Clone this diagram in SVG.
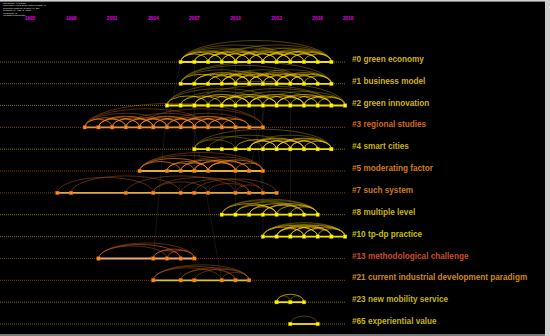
<svg xmlns="http://www.w3.org/2000/svg" xmlns:xlink="http://www.w3.org/1999/xlink" width="550" height="336" viewBox="0 0 550 336">
<style>
.hd{font-family:"Liberation Sans",Arial,sans-serif;font-size:2.5px;fill:#e0e0e0}
.yr{font-family:"Liberation Sans",Arial,sans-serif;font-size:4.8px;font-weight:bold;fill:#e600e6;text-anchor:middle}
.lb{font-family:"Liberation Sans",Arial,sans-serif;font-size:8.2px;font-weight:bold}
.dy{stroke:#9a8800;stroke-width:.8;stroke-dasharray:1 1;fill:none}
.do{stroke:#9a5510;stroke-width:.8;stroke-dasharray:1 1;fill:none}
.ly{stroke:#f2e400;stroke-width:1.8;fill:none}
.ay{fill:none;stroke:#ffd400;stroke-opacity:.7;stroke-width:.9}
.ayd{fill:none;stroke:#b89800;stroke-opacity:.55;stroke-width:.8}
.ao{fill:none;stroke:#ff8a20;stroke-opacity:.7;stroke-width:.9}
.aod{fill:none;stroke:#b05a10;stroke-opacity:.6;stroke-width:.8}
.ar{fill:none;stroke:#e0603a;stroke-opacity:.65;stroke-width:.9}
.gl{stroke:#a0a0a0;stroke-opacity:.22;stroke-width:.6;fill:none}
</style>
<defs>
<marker id="ny" markerUnits="userSpaceOnUse" markerWidth="5" markerHeight="5" refX="2.5" refY="2.5" overflow="visible"><rect x="0.8" y="0.8" width="3.4" height="3.4" fill="#ffff00" stroke="#c8b000" stroke-width=".4"/></marker>
<marker id="no" markerUnits="userSpaceOnUse" markerWidth="5" markerHeight="5" refX="2.5" refY="2.5" overflow="visible"><rect x="0.8" y="0.8" width="3.4" height="3.4" fill="#ff8c1a" stroke="#c06010" stroke-width=".4"/></marker>
<path id="a1" d="M0 0A6.85 6.5 0 0 1 13.7 0"/>
<path id="a2" d="M0 0A13.7 8 0 0 1 27.4 0"/>
<path id="a3" d="M0 0A20.55 9.5 0 0 1 41.1 0"/>
<path id="a4" d="M0 0A27.4 11 0 0 1 54.8 0"/>
<path id="a5" d="M0 0A34.25 12.5 0 0 1 68.5 0"/>
<path id="a6" d="M0 0A41.1 14 0 0 1 82.2 0"/>
<path id="a7" d="M0 0A47.95 15.5 0 0 1 95.9 0"/>
<path id="a8" d="M0 0A54.8 17 0 0 1 109.6 0"/>
<path id="a9" d="M0 0A61.65 18.5 0 0 1 123.3 0"/>
<path id="a10" d="M0 0A68.5 20 0 0 1 137 0"/>
<path id="a11" d="M0 0A75.35 21.5 0 0 1 150.7 0"/>
<path id="a13" d="M0 0A89.05 24 0 0 1 178.1 0"/>
</defs>
<rect x="0" y="0" width="550" height="336" fill="#000"/>
<rect x="0" y="0" width="550" height="1.6" fill="#d0d0d0"/>
<rect x="0" y="334" width="550" height="2" fill="#7a7a7a"/>
<rect x="545" y="0" width="5" height="336" fill="#d0d0d0"/>
<g id="header">
<text class="hd" x="3" y="4">CiteSpace, v. 5.8.R3</text>
<text class="hd" x="3" y="6.4">Timespan: 1995-2018 (Slice Length=1)</text>
<text class="hd" x="3" y="8.8">Selection Criteria: g-index (k=25)</text>
<text class="hd" x="3" y="11.2">Network: N=482, E=1736</text>
<text class="hd" x="3" y="13.6">Modularity Q</text>
<text class="hd" x="3" y="16">Weighted Silhouette</text>
</g>
<g id="years">
<text class="yr" x="30" y="20">1995</text>
<text class="yr" x="71.1" y="20">1998</text>
<text class="yr" x="112.2" y="20">2001</text>
<text class="yr" x="153.3" y="20">2004</text>
<text class="yr" x="194.4" y="20">2007</text>
<text class="yr" x="235.5" y="20">2010</text>
<text class="yr" x="276.6" y="20">2013</text>
<text class="yr" x="317.7" y="20">2016</text>
<text class="yr" x="348" y="20">2018</text>
</g>
<g id="connectors">
<path class="gl" d="M194.4 62V171M221.8 62V149M235.5 62V215M208.1 84V127M262.9 105V237M180.7 62L167 127M249.2 62L262.9 193M290.3 84V237M276.6 62L249.2 171M167 105L153.3 259M194.4 127L221.8 281"/>
<g transform="translate(0,62)">
<g class="ay"><use href="#a2" x="180.7"/><use href="#a2" x="194.4"/><use href="#a2" x="208.1"/><use href="#a2" x="221.8"/><use href="#a2" x="235.5"/><use href="#a2" x="249.2"/><use href="#a2" x="262.9"/><use href="#a2" x="276.6"/><use href="#a2" x="290.3"/><use href="#a2" x="304"/>
<use href="#a3" x="180.7"/><use href="#a3" x="194.4"/><use href="#a3" x="208.1"/><use href="#a3" x="221.8"/><use href="#a3" x="235.5"/><use href="#a3" x="249.2"/><use href="#a3" x="262.9"/><use href="#a3" x="276.6"/><use href="#a3" x="290.3"/>
<use href="#a4" x="180.7"/><use href="#a4" x="208.1"/><use href="#a4" x="235.5"/><use href="#a4" x="262.9"/><use href="#a4" x="276.6"/></g>
<g class="ayd"><use href="#a6" x="180.7"/><use href="#a6" x="208.1"/><use href="#a6" x="235.5"/><use href="#a6" x="249.2"/><use href="#a8" x="180.7"/><use href="#a8" x="221.8"/><use href="#a11" x="180.7"/><use href="#a5" x="194.4"/><use href="#a5" x="262.9"/></g>
</g>
<g transform="translate(0,83.8)">
<g class="ay"><use href="#a2" x="208.1"/><use href="#a2" x="221.8"/><use href="#a2" x="235.5"/><use href="#a2" x="249.2"/><use href="#a2" x="262.9"/><use href="#a2" x="276.6"/><use href="#a2" x="290.3"/><use href="#a2" x="304"/>
<use href="#a3" x="180.7"/><use href="#a3" x="194.4"/><use href="#a3" x="208.1"/><use href="#a3" x="221.8"/><use href="#a3" x="235.5"/><use href="#a3" x="249.2"/><use href="#a3" x="262.9"/><use href="#a3" x="276.6"/><use href="#a3" x="290.3"/>
<use href="#a4" x="194.4"/><use href="#a4" x="221.8"/><use href="#a4" x="249.2"/><use href="#a4" x="276.6"/></g>
<g class="ayd"><use href="#a6" x="180.7"/><use href="#a6" x="221.8"/><use href="#a6" x="249.2"/><use href="#a9" x="180.7"/><use href="#a11" x="180.7"/><use href="#a5" x="208.1"/></g>
</g>
<g transform="translate(0,105.5)">
<g class="ay"><use href="#a3" x="167"/><use href="#a3" x="180.7"/><use href="#a3" x="194.4"/><use href="#a3" x="208.1"/><use href="#a3" x="221.8"/><use href="#a3" x="235.5"/><use href="#a3" x="249.2"/><use href="#a3" x="262.9"/><use href="#a3" x="276.6"/><use href="#a3" x="290.3"/><use href="#a3" x="304"/>
<use href="#a2" x="221.8"/><use href="#a2" x="249.2"/><use href="#a2" x="276.6"/><use href="#a2" x="304"/><use href="#a2" x="317.7"/>
<use href="#a4" x="194.4"/><use href="#a4" x="221.8"/><use href="#a4" x="249.2"/><use href="#a4" x="276.6"/></g>
<g class="ayd"><use href="#a6" x="180.7"/><use href="#a6" x="235.5"/><use href="#a6" x="262.9"/><use href="#a8" x="167"/><use href="#a8" x="221.8"/><use href="#a13" x="167"/><use href="#a10" x="194.4"/></g>
</g>
<g transform="translate(0,127.3)">
<g class="ao"><use href="#a2" x="84.8"/><use href="#a2" x="98.5"/><use href="#a2" x="112.2"/><use href="#a2" x="125.9"/><use href="#a2" x="139.6"/><use href="#a2" x="153.3"/><use href="#a2" x="167"/><use href="#a2" x="180.7"/><use href="#a2" x="194.4"/><use href="#a2" x="208.1"/><use href="#a2" x="221.8"/>
<use href="#a3" x="84.8"/><use href="#a3" x="98.5"/><use href="#a3" x="112.2"/><use href="#a3" x="125.9"/><use href="#a3" x="139.6"/><use href="#a3" x="153.3"/><use href="#a3" x="167"/><use href="#a3" x="180.7"/><use href="#a3" x="194.4"/><use href="#a3" x="208.1"/>
<use href="#a4" x="98.5"/><use href="#a4" x="139.6"/><use href="#a4" x="180.7"/></g>
<g class="aod"><use href="#a6" x="84.8"/><use href="#a6" x="125.9"/><use href="#a6" x="167"/><use href="#a9" x="84.8"/><use href="#a9" x="139.6"/><use href="#a13" x="84.8"/></g>
</g>
<g transform="translate(0,149.2)">
<g class="ay"><use href="#a2" x="249.2"/><use href="#a2" x="262.9"/><use href="#a2" x="276.6"/><use href="#a2" x="290.3"/><use href="#a2" x="304"/>
<use href="#a3" x="235.5"/><use href="#a3" x="249.2"/><use href="#a3" x="262.9"/><use href="#a3" x="276.6"/><use href="#a3" x="290.3"/>
<use href="#a4" x="249.2"/><use href="#a4" x="276.6"/></g>
<g class="ayd"><use href="#a5" x="194.4"/><use href="#a6" x="208.1"/><use href="#a6" x="249.2"/><use href="#a10" x="194.4"/><use href="#a3" x="194.4"/></g>
</g>
<g transform="translate(0,171)">
<g class="ao"><use href="#a3" x="139.6"/><use href="#a3" x="167"/><use href="#a3" x="194.4"/><use href="#a3" x="208.1"/><use href="#a4" x="180.7"/><use href="#a4" x="194.4"/><use href="#a4" x="208.1"/><use href="#a2" x="167"/><use href="#a2" x="180.7"/><use href="#a2" x="208.1"/><use href="#a2" x="235.5"/><use href="#a5" x="139.6"/></g>
<g class="aod"><use href="#a7" x="139.6"/><use href="#a9" x="139.6"/><use href="#a6" x="180.7"/></g>
</g>
<g transform="translate(0,192.9)">
<g class="aod"><use href="#a7" x="57.4"/><use href="#a8" x="71.1"/><use href="#a8" x="125.9"/><use href="#a7" x="153.3"/><use href="#a6" x="180.7"/><use href="#a6" x="194.4"/><use href="#a3" x="208.1"/><use href="#a2" x="235.5"/><use href="#a4" x="153.3"/></g>
</g>
<g transform="translate(0,214.7)">
<g class="ay"><use href="#a4" x="221.8"/><use href="#a4" x="249.2"/><use href="#a4" x="262.9"/><use href="#a3" x="235.5"/><use href="#a3" x="262.9"/><use href="#a3" x="276.6"/><use href="#a2" x="249.2"/><use href="#a2" x="290.3"/></g>
<g class="ayd"><use href="#a7" x="221.8"/><use href="#a6" x="221.8"/><use href="#a6" x="235.5"/><use href="#a5" x="235.5"/></g>
</g>
<g transform="translate(0,236.6)">
<g class="ay"><use href="#a4" x="262.9"/><use href="#a4" x="276.6"/><use href="#a4" x="290.3"/><use href="#a3" x="262.9"/><use href="#a3" x="276.6"/><use href="#a3" x="290.3"/><use href="#a3" x="304"/><use href="#a2" x="276.6"/><use href="#a2" x="304"/><use href="#a2" x="317.7"/></g>
<g class="ayd"><use href="#a6" x="262.9"/><use href="#a5" x="262.9"/><use href="#a5" x="276.6"/></g>
</g>
<g transform="translate(0,258.5)">
<g class="ar"><use href="#a6" x="98.5"/><use href="#a3" x="153.3"/><use href="#a2" x="167"/><use href="#a2" x="153.3"/></g>
<g class="aod"><use href="#a7" x="98.5"/><use href="#a5" x="98.5"/></g>
</g>
<g transform="translate(0,280.3)">
<g class="aod"><use href="#a7" x="153.3"/><use href="#a6" x="153.3"/><use href="#a5" x="180.7"/><use href="#a4" x="180.7"/><use href="#a4" x="194.4"/><use href="#a5" x="153.3"/><use href="#a2" x="221.8"/></g>
</g>
<g transform="translate(0,302.2)">
<g class="ay"><use href="#a2" x="276.6"/></g>
<g class="ayd"><use href="#a1" x="276.6"/><use href="#a1" x="290.3"/></g>
</g>
<g transform="translate(0,324)">
<g class="ayd"><use href="#a2" x="290.3"/></g>
</g>
</g>
<g id="cluster-0" transform="translate(0,62)">
<path class="dy" d="M0 0H346"/>
<polyline class="ly" points="180.7,0 194.4,0 208.1,0 221.8,0 235.5,0 249.2,0 262.9,0 276.6,0 290.3,0 304,0 317.7,0 331.4,0" marker-start="url(#ny)" marker-mid="url(#ny)" marker-end="url(#ny)"/>
<text class="lb" x="352" y="0" fill="#d4b400">#0 green economy</text>
</g>
<g id="cluster-1" transform="translate(0,83.8)">
<path class="dy" d="M0 0H346"/>
<polyline class="ly" points="180.7,0 194.4,0 208.1,0 221.8,0 235.5,0 249.2,0 262.9,0 276.6,0 290.3,0 304,0 317.7,0 331.4,0" marker-start="url(#ny)" marker-mid="url(#ny)" marker-end="url(#ny)"/>
<text class="lb" x="352" y="0" fill="#d4b400">#1 business model</text>
</g>
<g id="cluster-2" transform="translate(0,105.5)">
<path class="dy" d="M0 0H346"/>
<polyline class="ly" points="167,0 180.7,0 194.4,0 208.1,0 221.8,0 235.5,0 249.2,0 262.9,0 276.6,0 290.3,0 304,0 317.7,0 331.4,0 345.1,0" marker-start="url(#ny)" marker-mid="url(#ny)" marker-end="url(#ny)"/>
<text class="lb" x="352" y="0" fill="#d4b400">#2 green innovation</text>
</g>
<g id="cluster-3" transform="translate(0,127.3)">
<path class="do" d="M0 0H346"/>
<polyline class="ly" style="stroke:#e8903a" points="84.8,0 98.5,0 112.2,0 125.9,0 139.6,0 153.3,0 167,0 180.7,0 194.4,0 208.1,0 221.8,0 235.5,0 249.2,0 262.9,0" marker-start="url(#no)" marker-mid="url(#no)" marker-end="url(#no)"/>
<text class="lb" x="352" y="0" fill="#d0691e">#3 regional studies</text>
</g>
<g id="cluster-4" transform="translate(0,149.2)">
<path class="dy" d="M0 0H346"/>
<polyline class="ly" points="194.4,0 208.1,0 221.8,0 235.5,0 249.2,0 262.9,0 276.6,0 290.3,0 304,0 317.7,0 331.4,0" marker-start="url(#ny)" marker-mid="url(#ny)" marker-end="url(#ny)"/>
<text class="lb" x="352" y="0" fill="#c8b400">#4 smart cities</text>
</g>
<g id="cluster-5" transform="translate(0,171)">
<path class="do" d="M0 0H346"/>
<polyline class="ly" style="stroke:#e8b030" points="139.6,0 167,0 180.7,0 194.4,0 208.1,0 235.5,0 249.2,0 262.9,0" marker-start="url(#no)" marker-mid="url(#no)" marker-end="url(#no)"/>
<text class="lb" x="352" y="0" fill="#d47a1c">#5 moderating factor</text>
</g>
<g id="cluster-7" transform="translate(0,192.9)">
<path class="do" d="M0 0H346"/>
<polyline class="ly" style="stroke:#e0aa40" points="57.4,0 71.1,0 125.9,0 153.3,0 180.7,0 194.4,0 208.1,0 235.5,0 249.2,0 262.9,0 276.6,0" marker-start="url(#no)" marker-mid="url(#no)" marker-end="url(#no)"/>
<text class="lb" x="352" y="0" fill="#cc7a20">#7 such system</text>
</g>
<g id="cluster-8" transform="translate(0,214.7)">
<path class="dy" d="M0 0H346"/>
<polyline class="ly" points="221.8,0 235.5,0 249.2,0 262.9,0 276.6,0 290.3,0 304,0 317.7,0" marker-start="url(#ny)" marker-mid="url(#ny)" marker-end="url(#ny)"/>
<text class="lb" x="352" y="0" fill="#c8b400">#8 multiple level</text>
</g>
<g id="cluster-10" transform="translate(0,236.6)">
<path class="dy" d="M0 0H346"/>
<polyline class="ly" points="262.9,0 276.6,0 290.3,0 304,0 317.7,0 331.4,0 345.1,0" marker-start="url(#ny)" marker-mid="url(#ny)" marker-end="url(#ny)"/>
<text class="lb" x="352" y="0" fill="#c8c000">#10 tp-dp practice</text>
</g>
<g id="cluster-13" transform="translate(0,258.5)">
<path class="do" d="M0 0H346" style="stroke:#a04020"/>
<polyline class="ly" style="stroke:#f0a870" points="98.5,0 153.3,0 167,0 180.7,0 194.4,0" marker-start="url(#no)" marker-mid="url(#no)" marker-end="url(#no)"/>
<text class="lb" x="352" y="0" fill="#cc4c2a">#13 methodological challenge</text>
</g>
<g id="cluster-21" transform="translate(0,280.3)">
<path class="do" d="M0 0H346"/>
<polyline class="ly" style="stroke:#dcc030" points="153.3,0 180.7,0 194.4,0 221.8,0 235.5,0 249.2,0" marker-start="url(#no)" marker-mid="url(#no)" marker-end="url(#no)"/>
<text class="lb" x="352" y="0" fill="#d08a1a">#21 current industrial development paradigm</text>
</g>
<g id="cluster-23" transform="translate(0,302.2)">
<path class="dy" d="M0 0H346"/>
<polyline class="ly" points="276.6,0 290.3,0 304,0" marker-start="url(#ny)" marker-mid="url(#ny)" marker-end="url(#ny)"/>
<text class="lb" x="352" y="0" fill="#c8b400">#23 new mobility service</text>
</g>
<g id="cluster-65" transform="translate(0,324)">
<path class="dy" d="M0 0H346"/>
<polyline class="ly" points="290.3,0 317.7,0" marker-start="url(#ny)" marker-mid="url(#ny)" marker-end="url(#ny)"/>
<text class="lb" x="352" y="0" fill="#c8b400">#65 experiential value</text>
</g>
</svg>
